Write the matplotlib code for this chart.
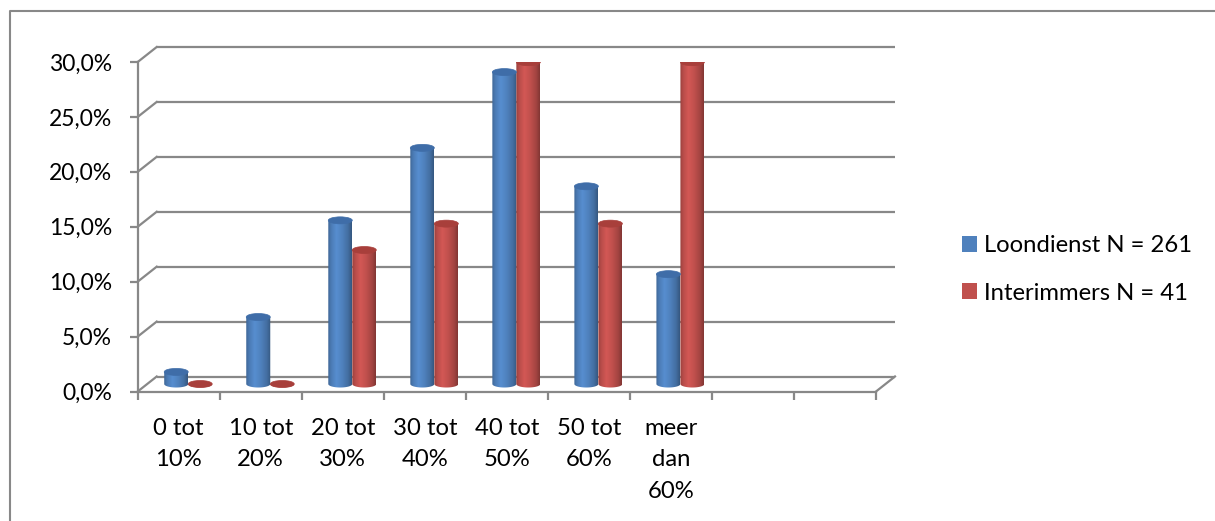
import numpy as np
import matplotlib
matplotlib.use("Agg")
import matplotlib.pyplot as plt
from matplotlib.patches import Ellipse, PathPatch, Patch
from matplotlib.path import Path
from matplotlib.lines import Line2D
from matplotlib.ticker import FuncFormatter

plt.rcParams['font.family'] = ['Lato', 'DejaVu Sans']

# ---- data -------------------------------------------------------------
categories = ["0 tot\n10%", "10 tot\n20%", "20 tot\n30%", "30 tot\n40%",
              "40 tot\n50%", "50 tot\n60%", "meer\ndan\n60%"]
loondienst = [1.1, 6.1, 14.9, 21.5, 28.4, 18.0, 10.0]     # %
interimmers = [0.0, 0.0, 12.2, 14.6, 29.3, 14.6, 29.3]    # %
series_names = ["Loondienst N = 261", "Interimmers N = 41"]
series_colors = ["#4f81bd", "#c0504d"]
top_colors = ["#3f6da8", "#a83f3b"]
y_ticks = [0, 5, 10, 15, 20, 25, 30]
n_slots = 9          # the category axis leaves two empty slots on the right

# ---- figure geometry (pixels) ----------------------------------------
W, H, DPI = 1215, 521, 100
X0, X1 = 137.7, 876.0          # front plane, left/right
Y0, Y1 = 391.5, 62.0           # front plane, 0% / 30%
DEPTH_X, DEPTH_Y = 19.0, 15.0  # shift from front plane to back wall
BAR_PX, ELL_PX = 24.0, 7.0
GRID = "#888888"
FS_Y = 16.5
FS = 17.2

fig = plt.figure(figsize=(W / DPI, H / DPI), dpi=DPI)
ax = fig.add_axes([X0 / W, 1 - Y0 / H, (X1 - X0) / W, (Y0 - Y1) / H])
ax.set_xlim(0, n_slots)
ax.set_ylim(0, 30)
ax.patch.set_alpha(0)

sx = n_slots / (X1 - X0)   # data units per pixel
sy = 30.0 / (Y0 - Y1)
ddx, ddy = DEPTH_X * sx, DEPTH_Y * sy

# back wall grid lines and the left side wall diagonals
for v in y_ticks:
    ax.plot([ddx, n_slots + ddx], [v + ddy, v + ddy], color=GRID, lw=1.6,
            clip_on=False, zorder=1, solid_capstyle='butt')
    ax.plot([0, ddx], [v, v + ddy], color=GRID, lw=1.6, clip_on=False, zorder=1)
# floor right edge
ax.plot([n_slots, n_slots + ddx], [0, ddy], color=GRID, lw=1.6, clip_on=False, zorder=1)

# ---- cylinders --------------------------------------------------------
bw = BAR_PX * sx
eh = ELL_PX * sy
prof_t = np.array([0.0, 0.12, 0.35, 0.6, 0.85, 1.0])
prof_f = np.array([0.80, 0.95, 1.10, 1.0, 0.85, 0.68])
tt = np.linspace(0, 1, 48)
shade = np.interp(tt, prof_t, prof_f)


def draw_cylinder(xc, base, value, color, top_color, z):
    rgb = np.array(matplotlib.colors.to_rgb(color))
    grad = np.clip(shade[:, None] * rgb[None, :], 0, 1)[None, :, :]
    xl, xr = xc - bw / 2, xc + bw / 2
    top = base + value
    ang = np.linspace(0, -np.pi, 40)
    arc = np.column_stack([xc + bw / 2 * np.cos(ang), base + eh / 2 * np.sin(ang)])
    verts = np.vstack([[xl, top], [xr, top], arc, [xl, top]])
    codes = [Path.MOVETO] + [Path.LINETO] * (len(verts) - 2) + [Path.CLOSEPOLY]
    clip = PathPatch(Path(verts, codes), transform=ax.transData, fc='none', ec='none')
    ax.add_patch(clip)
    im = ax.imshow(grad, extent=(xl, xr, base - eh, top), aspect='auto',
                   interpolation='bilinear', zorder=z, clip_on=True)
    im.set_clip_path(clip)
    ax.add_patch(Ellipse((xc, top), bw, eh, facecolor=top_color,
                         edgecolor=top_color, lw=0.5, zorder=z + 0.1))


base = ddy / 2
for i in range(len(categories)):
    gc = i + 0.5 + ddx / 2
    for j, vals in enumerate([loondienst, interimmers]):
        xc = gc + (j - 0.5) * bw
        draw_cylinder(xc, base, vals[i], series_colors[j], top_colors[j], 3 + i * 0.01 + j * 0.001)

ax.set_xlim(0, n_slots)
ax.set_ylim(0, 30)

# ---- axes -------------------------------------------------------------
for s in ("top", "right"):
    ax.spines[s].set_visible(False)
for s in ("left", "bottom"):
    ax.spines[s].set_color(GRID)
    ax.spines[s].set_linewidth(1.6)
    ax.spines[s].set_zorder(2)

ax.set_yticks(y_ticks)
ax.yaxis.set_major_formatter(FuncFormatter(lambda v, p: f"{v:.1f}%".replace(".", ",")))
ax.tick_params(axis='y', direction='out', length=5.5, width=1.6, color=GRID,
               pad=13, labelsize=FS_Y, labelcolor='black')

ax.set_xticks(np.arange(n_slots + 1))
ax.set_xticklabels([])
ax.tick_params(axis='x', which='major', direction='out', length=5.5, width=1.6, color=GRID)
ax.set_xticks(np.arange(len(categories)) + 0.5, minor=True)
ax.set_xticklabels(categories, minor=True, fontsize=FS, linespacing=1.6, va='top')
ax.tick_params(axis='x', which='minor', length=0, pad=19.2)

# ---- legend -----------------------------------------------------------
handles = [Patch(facecolor=c, edgecolor='none') for c in series_colors]
fig.legend(handles, series_names, loc='center left',
           bbox_to_anchor=(962 / W, 1 - 269.5 / H), frameon=False, fontsize=FS,
           handlelength=0.63, handleheight=0.63, handletextpad=0.3,
           labelspacing=1.1, borderpad=0, borderaxespad=0)

# ---- outer chart border -----------------------------------------------
bx, by = 10.5 / W, 1 - 10.5 / H
fig.add_artist(Line2D([bx, bx, 1.0], [0.0, by, by], transform=fig.transFigure,
                      color=GRID, lw=1.5))

fig.savefig("out.png", dpi=DPI)
